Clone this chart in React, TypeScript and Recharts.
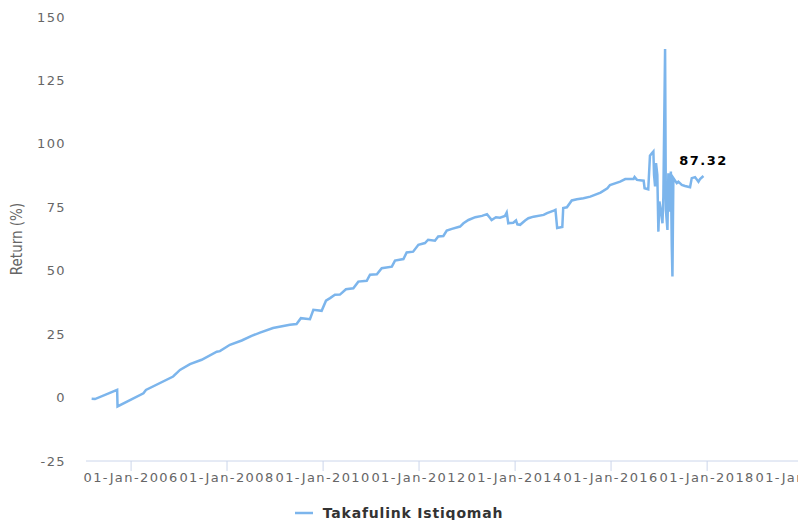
import { LabelList, Line, LineChart, XAxis, YAxis } from "recharts";

const dates = [
  "2005-03-07", "2005-04-01", "2005-09-17", "2005-09-20", "2006-04-05", "2006-04-24",
  "2006-11-17", "2007-01-08", "2007-03-25", "2007-06-22", "2007-10-15", "2007-11-08",
  "2008-01-23", "2008-04-22", "2008-07-06", "2008-09-08", "2008-12-16", "2009-04-23",
  "2009-06-13", "2009-07-16", "2009-09-23", "2009-10-19", "2009-12-21", "2010-01-23",
  "2010-02-23", "2010-04-01", "2010-05-09", "2010-06-24", "2010-08-19", "2010-09-26",
  "2010-11-29", "2010-12-24", "2011-02-14", "2011-03-23", "2011-06-08", "2011-07-02",
  "2011-09-04", "2011-09-29", "2011-11-17", "2011-12-27", "2012-02-15", "2012-03-10",
  "2012-05-01", "2012-05-26", "2012-07-04", "2012-07-30", "2012-09-07", "2012-11-08",
  "2012-12-04", "2013-01-11", "2013-03-04", "2013-04-24", "2013-06-01", "2013-06-26",
  "2013-07-06", "2013-08-08", "2013-09-08", "2013-10-16", "2013-10-29", "2013-11-10",
  "2013-12-18", "2014-01-08", "2014-01-18", "2014-02-08", "2014-03-18", "2014-04-12",
  "2014-05-21", "2014-08-06", "2014-09-01", "2014-10-22", "2014-11-04", "2014-11-17",
  "2014-12-26", "2015-01-02", "2015-01-30", "2015-03-08", "2015-04-16", "2015-06-05",
  "2015-07-27", "2015-10-13", "2015-12-04", "2015-12-24", "2016-03-10", "2016-04-18",
  "2016-06-20", "2016-06-28", "2016-07-16", "2016-09-05", "2016-09-12", "2016-10-10",
  "2016-10-23", "2016-11-06", "2016-11-18", "2016-11-23", "2016-12-01", "2016-12-08",
  "2016-12-18", "2016-12-26", "2017-01-03", "2017-01-13", "2017-01-26", "2017-02-02",
  "2017-02-15", "2017-02-21", "2017-03-05", "2017-03-12", "2017-03-20", "2017-03-31",
  "2017-04-07", "2017-04-12", "2017-04-19", "2017-05-15", "2017-05-27", "2017-06-22",
  "2017-07-17", "2017-08-24", "2017-09-06", "2017-10-01", "2017-10-27", "2017-11-08",
  "2017-12-04",
];

const returns = [
  -0.5, -0.6, 3.0, -3.5, 1.7, 3.0,
  8.3, 10.9, 13.2, 14.9, 18.1, 18.3,
  20.8, 22.5, 24.3, 25.6, 27.4, 28.7,
  29.0, 31.3, 30.9, 34.6, 34.2, 38.2,
  39.2, 40.5, 40.6, 42.7, 43.1, 45.7,
  46.0, 48.4, 48.6, 51.0, 51.6, 54.0,
  54.6, 57.2, 57.5, 60.2, 60.9, 62.2,
  61.8, 63.5, 63.7, 65.8, 66.5, 67.4,
  68.7, 70.0, 71.1, 71.6, 72.3, 70.7,
  70.0, 71.1, 70.9, 71.6, 72.9, 68.7,
  68.9, 69.8, 68.3, 68.1, 69.8, 70.7,
  71.3, 72.0, 72.7, 73.7, 74.0, 66.8,
  67.2, 74.7, 75.0, 77.7, 78.2, 78.6,
  79.2, 80.8, 82.5, 83.8, 85.1, 86.1,
  86.1, 86.9, 85.8, 85.5, 82.5, 82.1,
  95.3, 96.3, 97.0, 87.8, 83.2, 92.4,
  87.8, 65.4, 77.3, 74.0, 68.7, 79.2,
  137.4, 74.0, 66.1, 88.4, 73.3, 89.1,
  59.5, 47.7, 86.5, 84.5, 85.1, 83.8,
  83.4, 82.9, 86.5, 86.9, 85.1, 86.1,
  87.32,
];

const xTicks = [2006, 2008, 2010, 2012, 2014, 2016, 2018, 2020].map((y) => Date.UTC(y, 0, 1));
const yTicks = [-25, 0, 25, 50, 75, 100, 125, 150];
const seriesName = "Takafulink Istiqomah";

const MONTHS = ["Jan", "Feb", "Mar", "Apr", "May", "Jun", "Jul", "Aug", "Sep", "Oct", "Nov", "Dec"];
const fmtDate = (t: number) => {
  const d = new Date(t);
  return `${String(d.getUTCDate()).padStart(2, "0")}-${MONTHS[d.getUTCMonth()]}-${d.getUTCFullYear()}`;
};

const data = dates.map((d, i) => ({ t: Date.parse(d), v: returns[i] }));
const lastIdx = data.length - 1;

const FONT = "'DejaVu Sans', sans-serif";
const tickStyle = { fill: "#666666", fontSize: 13, fontFamily: FONT, letterSpacing: 1.4 };

export default function App() {
  return (
    <div style={{ position: "relative", width: 798, height: 520, overflow: "hidden", background: "#fff" }}>
      <style>{`body{margin:0}`}</style>
      <LineChart width={860} height={500} data={data} margin={{ top: 17, right: 33, bottom: 9, left: 0 }}>
        <XAxis
          dataKey="t"
          type="number"
          scale="time"
          domain={[Date.UTC(2005, 0, 23), Date.UTC(2020, 6, 1)]}
          ticks={xTicks}
          interval={0}
          tickFormatter={fmtDate}
          height={30}
          tickSize={10}
          tickMargin={2}
          stroke="#ccd6eb"
          tick={tickStyle}
          allowDataOverflow
        />
        <YAxis
          type="number"
          domain={[-25, 150]}
          ticks={yTicks}
          width={86}
          axisLine={false}
          tickLine={false}
          tickSize={0}
          tickMargin={20}
          tick={tickStyle}
          label={({ viewBox }: any) => (
            <text
              x={17}
              y={viewBox.y + viewBox.height / 2}
              transform={`rotate(-90, 17, ${viewBox.y + viewBox.height / 2})`}
              textAnchor="middle"
              dominantBaseline="central"
              fill="#666666"
              fontSize={15}
              fontFamily="'Liberation Sans Narrow', 'DejaVu Sans Condensed', sans-serif"
            >
              Return (%)
            </text>
          )}
        />
        <Line
          dataKey="v"
          name={seriesName}
          stroke="#7cb5ec"
          strokeWidth={2.5}
          dot={false}
          type="linear"
          isAnimationActive={false}
        >
          <LabelList
            dataKey="v"
            content={({ x, y, index, value }: any) =>
              index === lastIdx ? (
                <text
                  x={x}
                  y={y - 11}
                  textAnchor="middle"
                  fill="#000"
                  fontSize={13}
                  fontWeight="bold"
                  fontFamily={FONT}
                  letterSpacing={1.5}
                >
                  {value}
                </text>
              ) : null
            }
          />
        </Line>
      </LineChart>
      <div
        style={{
          position: "absolute",
          top: 505,
          left: 0,
          width: 798,
          display: "flex",
          justifyContent: "center",
          alignItems: "center",
          gap: 10,
          fontFamily: FONT,
          fontWeight: "bold",
          fontSize: 14,
          letterSpacing: 0.8,
          color: "#333",
        }}
      >
        <svg width={18} height={4}>
          <line x1={0} y1={2} x2={18} y2={2} stroke="#7cb5ec" strokeWidth={2.5} />
        </svg>
        <span>{seriesName}</span>
      </div>
    </div>
  );
}
